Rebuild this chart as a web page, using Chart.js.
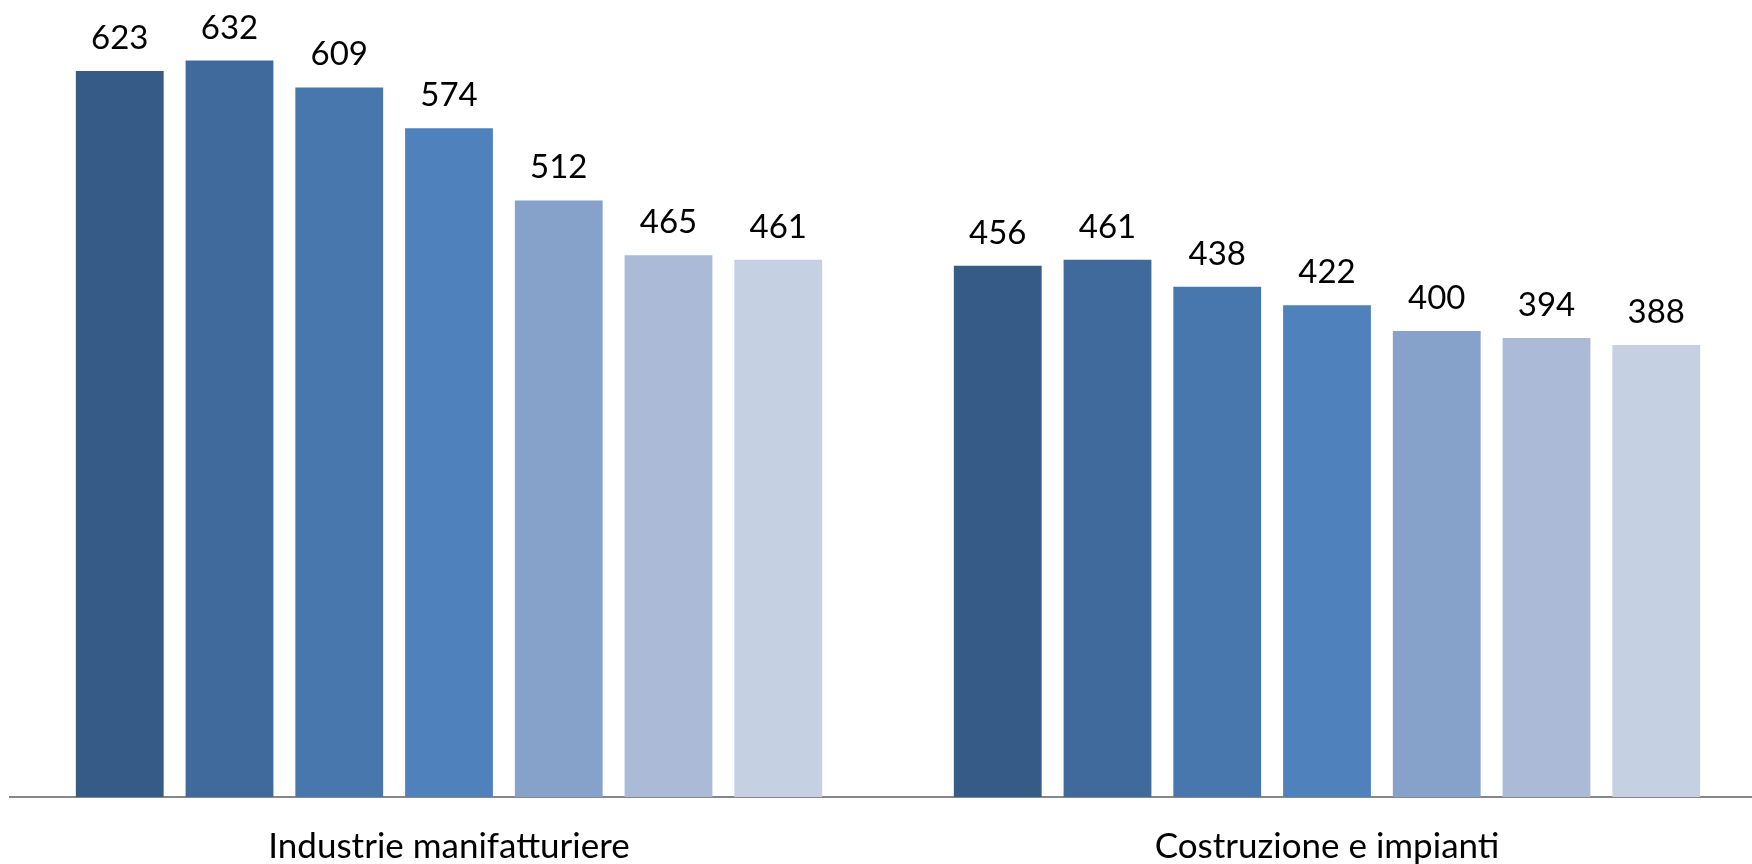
<!DOCTYPE html>
<html>
<head>
<meta charset="utf-8">
<script src="https://cdn.jsdelivr.net/npm/chart.js@4/dist/chart.umd.min.js"></script>
<style>
  html, body { margin: 0; padding: 0; background: #ffffff; overflow: hidden; }
  #wrap { width: 1766px; height: 864px; position: relative; }
</style>
</head>
<body>
<div id="wrap"><canvas id="c"></canvas></div>
<script>
const categories = ['Industrie manifatturiere', 'Costruzione e impianti'];
const seriesNames = ['Serie 1', 'Serie 2', 'Serie 3', 'Serie 4', 'Serie 5', 'Serie 6', 'Serie 7'];
const s1 = [623, 456];
const s2 = [632, 461];
const s3 = [609, 438];
const s4 = [574, 422];
const s5 = [512, 400];
const s6 = [465, 394];
const s7 = [461, 388];
const seriesValues = [s1, s2, s3, s4, s5, s6, s7];
const seriesColors = ['#365B86', '#406A9B', '#4877AD', '#4F81BD', '#86A2CB', '#AABAD7', '#C5D0E3'];

const valueLabels = {
  id: 'valueLabels',
  afterDatasetsDraw(chart) {
    const ctx = chart.ctx;
    ctx.save();
    ctx.font = '33px Lato';
    ctx.fillStyle = '#000000';
    ctx.textAlign = 'center';
    ctx.textBaseline = 'alphabetic';
    chart.data.datasets.forEach((ds, i) => {
      const meta = chart.getDatasetMeta(i);
      meta.data.forEach((bar, j) => {
        ctx.fillText(String(ds.data[j]), bar.x, bar.y - 22);
      });
    });
    // category labels under the axis
    const xs = chart.scales.x;
    ctx.font = '35px Lato';
    ctx.textBaseline = 'middle';
    chart.data.labels.forEach((lab, k) => {
      ctx.fillText(lab, xs.getPixelForValue(k), chart.chartArea.bottom + 50);
    });
    ctx.restore();
  }
};

new Chart(document.getElementById('c'), {
  type: 'bar',
  data: {
    labels: categories,
    datasets: seriesValues.map((vals, i) => ({
      label: seriesNames[i],
      data: vals,
      backgroundColor: seriesColors[i],
      borderWidth: 0,
      categoryPercentage: 0.875,
      barPercentage: 0.8
    }))
  },
  options: {
    responsive: true,
    maintainAspectRatio: false,
    animation: false,
    layout: { padding: { left: 10, right: 0, top: 0, bottom: 67 } },
    plugins: { legend: { display: false }, tooltip: { enabled: false } },
    scales: {
      x: {
        grid: { display: false, drawTicks: false },
        border: { display: true, color: '#878787', width: 2 },
        ticks: { display: false }
      },
      y: {
        display: false,
        min: 0,
        max: 684
      }
    }
  },
  plugins: [valueLabels]
});
</script>
</body>
</html>
